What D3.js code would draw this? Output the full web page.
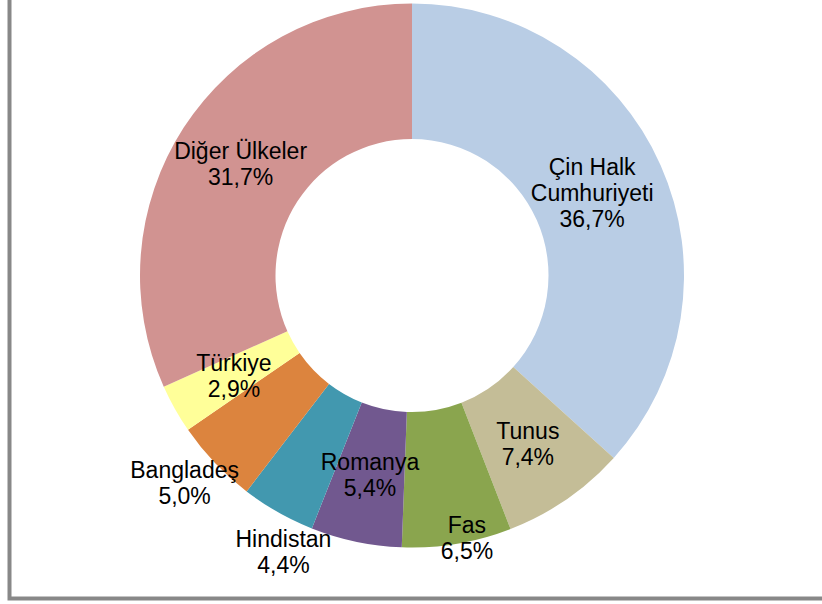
<!DOCTYPE html>
<html>
<head>
<meta charset="utf-8">
<script src="https://cdn.jsdelivr.net/npm/d3@7"></script>
<style>
  html, body { margin: 0; padding: 0; background: #fff; }
  svg { display: block; }
  .lbl { font-family: "Liberation Sans", Arial, sans-serif; font-size: 23px; fill: #000; }
</style>
</head>
<body>
<svg id="chart" width="822" height="604"></svg>
<script>
// categories, clockwise from 12 o'clock
var countries = ["Çin Halk Cumhuriyeti", "Tunus", "Fas", "Romanya", "Hindistan", "Bangladeş", "Türkiye", "Diğer Ülkeler"];
var shares = [36.7, 7.4, 6.5, 5.4, 4.4, 5.0, 2.9, 31.7];
var percentLabels = ["36,7%", "7,4%", "6,5%", "5,4%", "4,4%", "5,0%", "2,9%", "31,7%"];
var nameLines = [["Çin Halk", "Cumhuriyeti"], ["Tunus"], ["Fas"], ["Romanya"], ["Hindistan"], ["Bangladeş"], ["Türkiye"], ["Diğer Ülkeler"]];
var sliceColors = ["#b9cde5", "#c4bd97", "#8aa54e", "#71588f", "#4298af", "#dc843e", "#ffff99", "#d19391"];

var svg = d3.select("#chart"),
		cx = 412, cy = 275.5,
		outerR = 272, innerR = 136.5;

// frame (top and right edges run off the picture)
svg.append("rect")
	.attr("x", 9.5)
	.attr("y", -20)
	.attr("width", 840)
	.attr("height", 618.5)
	.attr("fill", "none")
	.attr("stroke", "#888")
	.attr("stroke-width", 4);

var pie = d3.pie().sort(null).value(function (d) { return d; });
var arcs = pie(shares);

var arc = d3.arc().innerRadius(innerR).outerRadius(outerR);

var root = svg.append("g")
		.attr("transform", "translate(" + cx + "," + cy + ")");

root.selectAll("path.slice")
	.data(arcs)
	.enter().append("path")
		.attr("class", "slice")
		.attr("d", arc)
		.attr("fill", function (d, i) { return sliceColors[i]; });

// Excel pushed a few small labels outside the ring
var labelRadius = (innerR + outerR) / 2;
var movedLabels = {
	"Fas": { r: 268, da: -0.04 },
	"Hindistan": { r: 305, da: -0.08 },
	"Bangladeş": { r: 308, da: 0.02 },
	"Çin Halk Cumhuriyeti": { r: 198, da: -0.01 }
};

var lineH = 26;

arcs.forEach(function (d, i) {
	var mv = movedLabels[countries[i]] || { r: labelRadius, da: 0 };
	var a = (d.startAngle + d.endAngle) / 2 + mv.da;
	var x = Math.sin(a) * mv.r,
			y = -Math.cos(a) * mv.r;
	var lines = nameLines[i].concat([percentLabels[i]]);
	var first = y - (lines.length - 1) * lineH / 2 + 8;

	var t = root.append("text")
		.attr("class", "lbl")
		.attr("text-anchor", "middle");
	lines.forEach(function (s, k) {
		t.append("tspan")
			.attr("x", x)
			.attr("y", first + k * lineH)
			.text(s);
	});
});
</script>
</body>
</html>
